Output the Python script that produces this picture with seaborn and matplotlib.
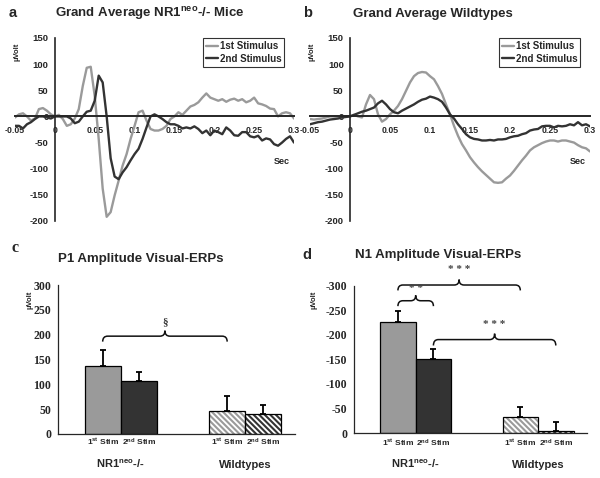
import numpy as np
import pandas as pd
import matplotlib
matplotlib.use('Agg')
import matplotlib.pyplot as plt
import seaborn as sns
from matplotlib.path import Path
from matplotlib.patches import PathPatch, Rectangle
from matplotlib.ticker import FormatStrFormatter

# ---- data ----
time = np.round(np.arange(-0.05, 0.3001, 0.005), 3)  # sampling grid, seconds

ko_1st = [-2, 4, 6, 0, -8, -4, 14, 16, 11, 4,
          0, 3, -5, -18, -15, -4, 14, 58, 93, 95,
          39, -43, -138, -192, -183, -151, -123, -94, -72, -43,
          -18, 8, 11, -8, -24, -27,
          -27, -24, -18, -5, 0, 8, 3, 11, 19, 22,
          27, 36, 44, 36, 33, 30, 33, 28, 32, 34,
          30, 33, 27, 30, 36, 25, 23, 20, 15, 14,
          0, 6, 8, 6, -4]
ko_2nd = [-18, -18, -23, -15, -11, -5, 0, 0, -2, -4,
          0, 0, 0, 0, -4, -13, -10, 0, 9, 11,
          30, 78, 65, 0, -80, -115, -120, -107, -97, -84,
          -72, -62, -43, -21, 0, 4,
          0, -5, -11, -15, -15, -18, -23, -21, -23, -19,
          -24, -32, -27, -36, -27, -30, -34, -21, -27, -36,
          -37, -30, -30, -38, -40, -37, -46, -42, -44, -53,
          -56, -50, -43, -38, -50]
wt_1st = [-5, -6, -5, -4, -2, 0, 0, 0, 0, 0,
          0, 3, 0, -2, 23, 41, 33, 4, -10, -5,
          4, 11, 20, 33, 49, 65, 77, 83, 85, 84,
          77, 71, 58, 43, 23, 4,
          -18, -37, -53, -65, -78, -88, -97, -105, -112, -119,
          -126, -127, -126, -119, -113, -104, -94, -84, -75, -65,
          -59, -55, -51, -48, -46, -46, -48, -46, -46, -48,
          -50, -55, -59, -61, -67]
wt_2nd = [-15, -13, -11, -10, -8, -6, -5, -4, -2, -1,
          0, 3, 6, 9, 11, 14, 17, 25, 30, 23,
          14, 8, 6, 11, 15, 19, 23, 28, 32, 34,
          38, 36, 33, 28, 17, 4,
          -4, -15, -24, -34, -40, -43, -44, -46, -46, -45,
          -46, -44, -44, -43, -40, -38, -37, -34, -32, -27,
          -25, -24, -19, -18, -18, -21, -18, -19, -18, -15,
          -17, -11, -17, -15, -19]

groups = ['NR1', 'Wildtypes']
stims = ['1st Stim', '2nd Stim']
p1_mean = [137, 106, 46, 41]      # order: NR1-1st, NR1-2nd, WT-1st, WT-2nd
p1_top = [170, 125, 76, 58]
n1_mean = [-226, -151, -33, -5]
n1_top = [-248, -171, -53, -22]

GRAY = '#9a9a9a'
DARK = '#333333'

sns.set_style('white')
plt.rcParams.update({
    'font.family': ['Liberation Sans', 'DejaVu Sans'],
    'font.weight': 'bold',
    'axes.unicode_minus': False,
    'mathtext.fontset': 'custom',
    'mathtext.default': 'bf',
    'mathtext.bf': 'Liberation Sans:bold',
    'mathtext.rm': 'Liberation Sans:bold',
    'hatch.linewidth': 1.5,
})

W, H = 600, 478


def fx(x):
    return x / W


def fy(y):
    return 1 - y / H


def brace(ax, x1, x2, y, h, dx=0.04):
    xm = (x1 + x2) / 2
    verts = [(x1, y - h), (x1, y), (x1 + dx, y),
             (xm - dx, y), (xm, y), (xm, y + h),
             (xm, y), (xm + dx, y),
             (x2 - dx, y), (x2, y), (x2, y - h)]
    codes = [Path.MOVETO, Path.CURVE3, Path.CURVE3,
             Path.LINETO, Path.CURVE3, Path.CURVE3,
             Path.CURVE3, Path.CURVE3,
             Path.LINETO, Path.CURVE3, Path.CURVE3]
    ax.add_patch(PathPatch(Path(verts, codes), fill=False, lw=1.1,
                           color='#111111', clip_on=False))


def erp_panel(ax, first, second):
    df = pd.DataFrame({
        't': np.concatenate([time, time]),
        'v': np.concatenate([first, second]),
        'stim': ['1st Stimulus'] * len(time) + ['2nd Stimulus'] * len(time),
    })
    sns.lineplot(data=df, x='t', y='v', hue='stim', palette=[GRAY, DARK],
                 lw=1.7, errorbar=None, ax=ax)
    ax.set_xlim(-0.05, 0.3)
    ax.set_ylim(-200, 150)
    ax.set_xticks([-0.05, 0, 0.05, 0.1, 0.15, 0.2, 0.25, 0.3])
    ax.set_yticks(range(-200, 151, 50))
    ax.xaxis.set_major_formatter(FormatStrFormatter('%g'))
    ax.spines['left'].set_position(('data', 0))
    ax.spines['bottom'].set_position(('data', 0))
    for s in ['top', 'right']:
        ax.spines[s].set_visible(False)
    ax.spines['left'].set_linewidth(1.2)
    ax.spines['bottom'].set_linewidth(1.4)
    ax.tick_params(length=3, width=1, direction='out')
    ax.tick_params(axis='x', pad=4, labelsize=6.3)
    ax.tick_params(axis='y', pad=1.5, labelsize=6.8)
    ax.set_xlabel('')
    ax.set_ylabel('')
    ax.text(0.285, -86, 'Sec', fontsize=6.5, ha='center', va='center')
    ax.text(0.0075, 0.925, 'µVolt', transform=ax.transAxes, rotation=90,
            fontsize=5.5, ha='center', va='center')
    sns.move_legend(ax, 'upper right', bbox_to_anchor=(0.965, 1.0),
                    title=None, frameon=True, fancybox=False, borderaxespad=0,
                    prop={'weight': 'bold', 'size': 7}, handlelength=1.2,
                    handletextpad=0.2, labelspacing=0.3, borderpad=0.3)
    leg = ax.get_legend()
    leg.get_frame().set_edgecolor('black')
    leg.get_frame().set_linewidth(0.8)
    for line in leg.get_lines():
        line.set_linewidth(1.7)


def bar_panel(ax, means, tops, ylim, yticks, ylabels, stim_y, group_y):
    df = pd.DataFrame({
        'group': [groups[0], groups[0], groups[1], groups[1]],
        'stim': [stims[0], stims[1], stims[0], stims[1]],
        'amp': means,
    })
    sns.barplot(data=df, x='group', y='amp', hue='stim', order=groups,
                hue_order=stims, palette=[GRAY, DARK], width=0.58,
                edgecolor='black', linewidth=0.9, errorbar=None,
                legend=False, ax=ax)
    bars = sorted(ax.patches[:4], key=lambda p: p.get_x())
    centers = [p.get_x() + p.get_width() / 2 for p in bars]
    # wildtype bars: hatched, with a separate black outline
    for p in bars[2:]:
        col = p.get_facecolor()
        r = Rectangle((p.get_x(), p.get_y()), p.get_width(), p.get_height(),
                      fill=False, edgecolor='black', lw=0.9, zorder=p.get_zorder() + 0.1)
        p.set_facecolor('white')
        p.set_edgecolor(col)
        p.set_hatch('\\' * 6)
        p.set_linewidth(0)
        ax.add_patch(r)
    means = np.array(means, dtype=float)
    tops = np.array(tops, dtype=float)
    lower = np.where(tops < means, means - tops, 0)
    upper = np.where(tops > means, tops - means, 0)
    ax.errorbar(centers, means, yerr=[lower, upper], fmt='none', ecolor='black',
                elinewidth=1.3, capsize=2.4, capthick=1.3, zorder=5)
    ax.set_ylim(*ylim)
    ax.set_xlim(-0.504, 1.4)
    ax.set_yticks(yticks)
    ax.set_yticklabels(ylabels, family='Liberation Serif', fontsize=8.5,
                       fontweight='bold')
    ax.set_xticks([0.5])
    ax.set_xticklabels([''])
    ax.tick_params(length=3, width=0.9, direction='out', pad=2)
    for s in ['top', 'right']:
        ax.spines[s].set_visible(False)
    for s in ['left', 'bottom']:
        ax.spines[s].set_linewidth(0.9)
    ax.set_xlabel('')
    ax.set_ylabel('')
    trans = ax.get_xaxis_transform()
    for c, lab in zip(centers, [r'1$^{st}$ Stim', r'2$^{nd}$ Stim'] * 2):
        ax.text(c, stim_y, lab, transform=trans, fontsize=6, ha='center',
                va='baseline')
    ax.text(0, group_y, r'NR1$^{neo}$-/-', transform=trans, fontsize=8,
            ha='center', va='baseline')
    ax.text(1, group_y, 'Wildtypes', transform=trans, fontsize=8,
            ha='center', va='baseline')
    ax.text(-0.36, 0.9, 'µVolt', transform=ax.transAxes, rotation=90,
            fontsize=5.5, ha='center', va='center')
    return centers


fig = plt.figure(figsize=(6, 4.78), dpi=100)

ax_a = fig.add_axes([fx(15), fy(221), 279 / W, 183 / H])
ax_b = fig.add_axes([fx(310), fy(221), 280 / W, 183 / H])
ax_c = fig.add_axes([fx(58), fy(434), 237 / W, 149 / H])
ax_d = fig.add_axes([fx(354), fy(433), 233 / W, 147.5 / H])

erp_panel(ax_a, ko_1st, ko_2nd)
erp_panel(ax_b, wt_1st, wt_2nd)

cc = bar_panel(ax_c, p1_mean, p1_top, (0, 300), range(0, 301, 50),
               [str(v) for v in range(0, 301, 50)], -0.074, -0.23)
ax_c.texts[-1].set_position((-0.12, 0.9))
brace(ax_c, cc[0], cc[2], 197, 11)
ax_c.text((cc[0] + cc[2]) / 2, 226, '§', fontsize=8, ha='center', va='center',
          family='Liberation Serif', color='#333333')

dc = bar_panel(ax_d, n1_mean, n1_top, (0, -300), range(0, -301, -50),
               [str(v) for v in range(0, -301, -50)], -0.091, -0.237)
ax_d.texts[-1].set_position((-0.17, 0.9))
brace(ax_d, dc[0], dc[1], -269, -11)
brace(ax_d, dc[0], dc[2], -301, -11)
brace(ax_d, dc[1], dc[3], -190, -12)
for x, y, s in [((dc[0] + dc[1]) / 2, -294, '* *'),
                ((dc[0] + dc[2]) / 2, -333, '* * *'),
                ((dc[1] + dc[3]) / 2, -221, '* * *')]:
    ax_d.text(x, y, s, fontsize=8, ha='center', va='center',
              family='Liberation Serif', color='#444444', clip_on=False)

# panel letters and titles
fig.text(fx(9), fy(16.7), 'a', fontsize=10.5, ha='left', va='baseline')
fig.text(fx(55), fy(16.7), r'Grand Average NR1$^{neo}$-/- Mice', fontsize=9.5,
         ha='left', va='baseline')
fig.text(fx(303), fy(17.3), 'b', fontsize=10.5, ha='left', va='baseline')
fig.text(fx(353), fy(17.3), 'Grand Average Wildtypes', fontsize=9.5,
         ha='left', va='baseline')
fig.text(fx(11), fy(251.7), 'c', fontsize=11.5, ha='left', va='baseline',
         family='Liberation Serif')
fig.text(fx(58), fy(261.7), 'P1 Amplitude Visual-ERPs', fontsize=9.5,
         ha='left', va='baseline')
fig.text(fx(302), fy(259.3), 'd', fontsize=10.5, ha='left', va='baseline')
fig.text(fx(355), fy(258.3), 'N1 Amplitude Visual-ERPs', fontsize=9.5,
         ha='left', va='baseline')

fig.savefig('out.png', dpi=100)
